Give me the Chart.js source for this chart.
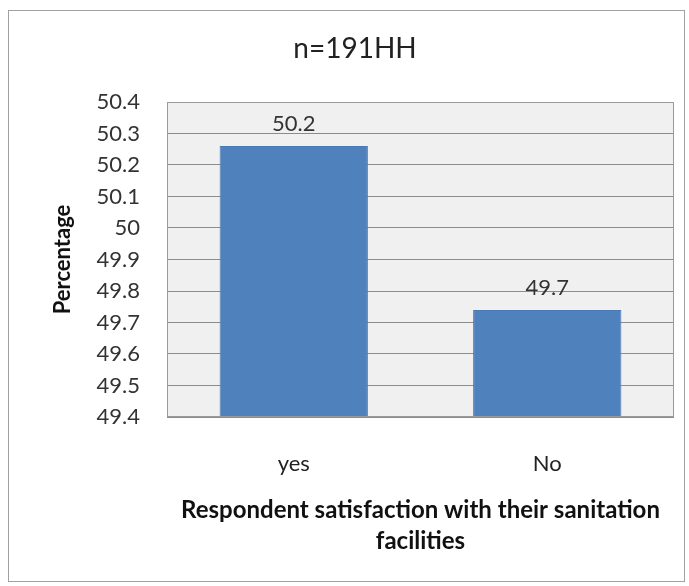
<!DOCTYPE html>
<html>
<head>
<meta charset="utf-8">
<script src="https://cdn.jsdelivr.net/npm/chart.js@4.4.1/dist/chart.umd.min.js"></script>
<style>
  html, body { margin: 0; padding: 0; background: #fff; }
  #wrap { position: relative; width: 689px; height: 586px; }
  #frame {
    position: absolute; left: 8px; top: 10px; width: 675px; height: 570px;
    border: 1px solid #a0a0a0; pointer-events: none;
  }
</style>
</head>
<body>
<div id="wrap">
  <canvas id="chart" width="689" height="586"></canvas>
  <div id="frame"></div>
</div>
<script>
const categories = ["yes", "No"];
const percentages = [50.26, 49.74];   // 96 and 95 of 191 households
const yMin = 49.4;
const yMax = 50.4;

const FONT = "Lato, 'Open Sans', sans-serif";

// labels keep one decimal, cut off rather than rounded
function oneDecimal(v) {
  return (Math.floor(v * 10 + 1e-9) / 10).toFixed(1);
}

// grey plot area behind the bars
const plotBackground = {
  id: "plotBackground",
  beforeDraw(chart) {
    const { ctx, chartArea: a } = chart;
    ctx.save();
    ctx.fillStyle = "#f0f0f0";
    ctx.fillRect(a.left, a.top, a.right - a.left, a.bottom - a.top);
    ctx.restore();
  },
  afterDatasetsDraw(chart) {
    const { ctx, chartArea: a } = chart;
    ctx.save();
    ctx.strokeStyle = "#9a9a9a";
    ctx.lineWidth = 1;
    ctx.strokeRect(a.left + 0.5, a.top + 0.5, a.right - a.left - 1, a.bottom - a.top - 1);
    ctx.restore();
  }
};

// value written above each bar
const valueLabels = {
  id: "valueLabels",
  afterDatasetsDraw(chart) {
    const { ctx } = chart;
    const meta = chart.getDatasetMeta(0);
    ctx.save();
    ctx.font = "22px " + FONT;
    ctx.fillStyle = "#333";
    ctx.textAlign = "center";
    ctx.textBaseline = "middle";
    meta.data.forEach((bar, i) => {
      ctx.fillText(oneDecimal(percentages[i]), bar.x, bar.y - 22);
    });
    ctx.restore();
  }
};

new Chart(document.getElementById("chart"), {
  type: "bar",
  data: {
    labels: categories,
    datasets: [{
      data: percentages,
      backgroundColor: "#4f81bd",
      borderColor: "#4a7ab5",
      borderWidth: 1,
      categoryPercentage: 1,
      barPercentage: 0.585
    }]
  },
  options: {
    responsive: false,
    animation: false,
    layout: { padding: { left: 36, right: 15, top: 0, bottom: 0 } },
    plugins: {
      legend: { display: false },
      tooltip: { enabled: false },
      title: {
        display: true,
        text: "n=191HH",
        color: "#222",
        font: { family: FONT, size: 28, weight: "normal", lineHeight: 1.2 },
        padding: { top: 32, bottom: 36.4 }
      }
    },
    scales: {
      x: {
        grid: { display: false, drawTicks: false },
        border: { display: false },
        ticks: {
          color: "#222",
          padding: 34,
          font: { family: FONT, size: 22 }
        },
        title: {
          display: true,
          text: ["Respondent satisfaction with their sanitation", "facilities"],
          color: "#111",
          font: { family: FONT, size: 24, weight: "bold", lineHeight: 1.29 },
          padding: { top: 0, bottom: 29 }
        },
        afterFit(scale) { scale.height = 169; }
      },
      y: {
        min: yMin,
        max: yMax,
        grid: { color: "#8c8c8c", drawTicks: false },
        border: { display: false },
        ticks: {
          stepSize: 0.1,
          color: "#333",
          padding: 27,
          font: { family: FONT, size: 22 },
          callback: v => String(Number(v.toFixed(1)))
        },
        title: {
          display: true,
          text: "Percentage",
          color: "#111",
          font: { family: FONT, size: 22, weight: "bold", lineHeight: 1.2 },
          padding: { top: 14, bottom: 0 }
        },
        afterFit(scale) { scale.width = 131; }
      }
    }
  },
  plugins: [plotBackground, valueLabels]
});
</script>
</body>
</html>
